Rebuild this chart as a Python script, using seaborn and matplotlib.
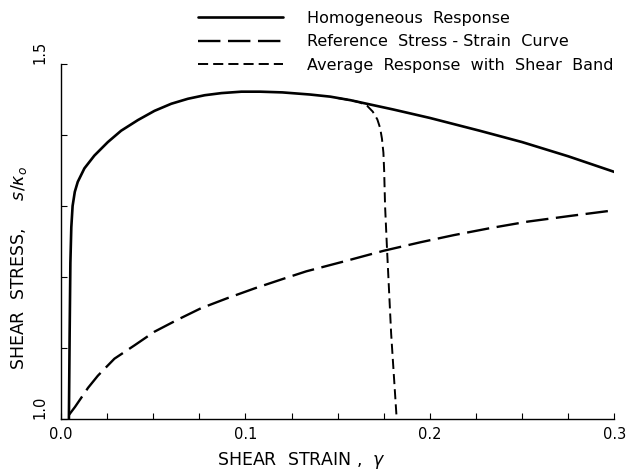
import numpy as np
import pandas as pd
import matplotlib
matplotlib.use("Agg")
import matplotlib.pyplot as plt
import seaborn as sns

sns.set_style("ticks")
plt.rcParams["font.family"] = ["DejaVu Sans"]
plt.rcParams["text.color"] = "black"
plt.rcParams["axes.labelcolor"] = "black"

# Curvas (deformacion, esfuerzo)
hom_x = [0.0043, 0.0047, 0.0051, 0.0056, 0.0063, 0.0075, 0.0091, 0.0127, 0.0181, 0.0254,
         0.0326, 0.0417, 0.0507, 0.0598, 0.0688, 0.0779, 0.087, 0.0978, 0.108, 0.12,
         0.135, 0.146, 0.157, 0.164, 0.18, 0.2, 0.227, 0.25, 0.275, 0.3]
hom_y = [1.0, 1.12, 1.22, 1.27, 1.30, 1.32, 1.334, 1.353, 1.371, 1.390,
         1.406, 1.421, 1.434, 1.444, 1.451, 1.456, 1.459, 1.461, 1.461, 1.460,
         1.457, 1.454, 1.449, 1.445, 1.436, 1.424, 1.406, 1.39, 1.370, 1.348]

ref_x = [0.0044, 0.0076, 0.0147, 0.020, 0.029, 0.040, 0.0507, 0.0633, 0.0759, 0.090, 0.105,
         0.12, 0.133, 0.155, 0.175, 0.195, 0.213, 0.233, 0.253, 0.276, 0.3]
ref_y = [1.006, 1.017, 1.044, 1.061, 1.085, 1.104, 1.123, 1.140, 1.156, 1.170, 1.184,
         1.197, 1.208, 1.223, 1.237, 1.249, 1.259, 1.269, 1.278, 1.286, 1.294]

avg_x = [0.15, 0.157, 0.162, 0.166, 0.169, 0.1715, 0.173, 0.174, 0.1748, 0.1752,
         0.1757, 0.1768, 0.179, 0.182]
avg_y = [1.452, 1.449, 1.446, 1.441, 1.433, 1.422, 1.41, 1.395, 1.375, 1.35,
         1.30, 1.237, 1.12, 1.0]

labels = ["Homogeneous  Response", "Reference  Stress - Strain  Curve",
          "Average  Response  with  Shear  Band"]

x_ticks = np.arange(0, 0.3001, 0.025)
x_tick_labels = {0.0: "0.0", 0.1: "0.1", 0.2: "0.2", 0.3: "0.3"}
y_ticks = [1.0, 1.1, 1.2, 1.3, 1.4, 1.5]
y_tick_labels = {1.0: "1.0", 1.5: "1.5"}

df = pd.concat([
    pd.DataFrame({"strain": hom_x, "stress": hom_y, "curve": labels[0]}),
    pd.DataFrame({"strain": ref_x, "stress": ref_y, "curve": labels[1]}),
    pd.DataFrame({"strain": avg_x, "stress": avg_y, "curve": labels[2]}),
])

fig = plt.figure(figsize=(6.26, 4.74), dpi=100)
ax = fig.add_axes([0.0974, 0.116, 0.884, 0.749])

sns.lineplot(data=df, x="strain", y="stress", hue="curve", style="curve",
             palette=["black"] * 3,
             dashes=["", (9.5, 3.2), (5.2, 2.6)],
             sort=False, estimator=None, ax=ax, legend=False)
lines = ax.get_lines()
lines[0].set_linewidth(1.9)
lines[1].set_linewidth(1.7)
lines[2].set_linewidth(1.4)

ax.set_xlim(0, 0.3)
ax.set_ylim(1.0, 1.5)
ax.set_xticks(x_ticks)
ax.set_xticklabels([x_tick_labels.get(round(t, 3), "") for t in x_ticks], fontsize=10.5)
ax.set_yticks(y_ticks)
ax.set_yticklabels([y_tick_labels.get(t, "") for t in y_ticks], fontsize=10.5,
                   rotation=90, va="bottom")
ax.tick_params(direction="in", length=4, width=0.8, colors="black", pad=6)
ax.tick_params(axis="y", pad=10)
sns.despine(ax=ax)
for s in ["left", "bottom"]:
    ax.spines[s].set_color("black")
    ax.spines[s].set_linewidth(1.0)

ax.set_xlabel("SHEAR  STRAIN ,  $\\gamma$", fontsize=12.5)
ax.set_ylabel("SHEAR  STRESS,     $s/\\kappa_o$", fontsize=12.5)
ax.xaxis.set_label_coords(0.434, -0.088)
ax.yaxis.set_label_coords(-0.057, 0.425)

leg = ax.legend(lines, labels, loc="upper left", bbox_to_anchor=(0.248, 1.15),
                frameon=False, fontsize=11.5, handlelength=5.3, handletextpad=1.5,
                labelspacing=0.53, borderaxespad=0, borderpad=0)
for t in leg.get_texts():
    t.set_color("black")

fig.savefig("out.png", dpi=100)
